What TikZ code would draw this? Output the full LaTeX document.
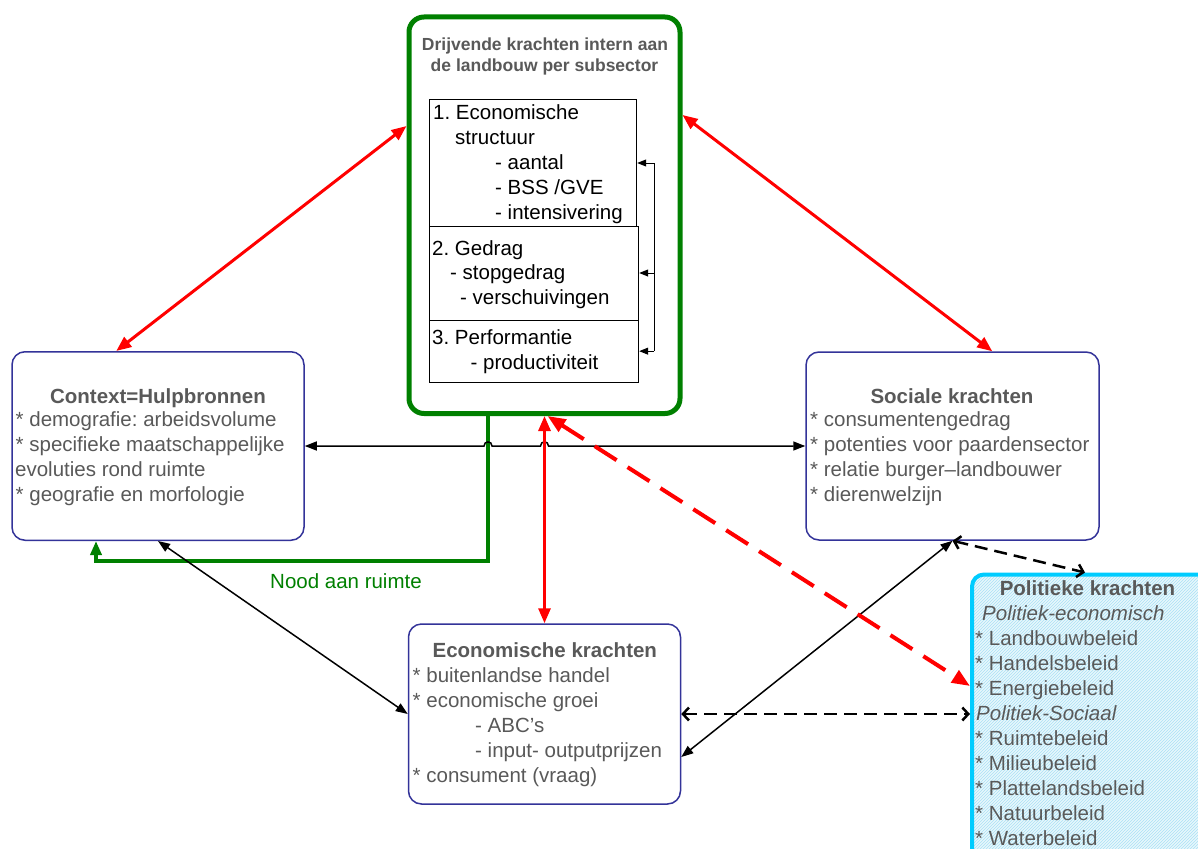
\documentclass[tikz,border=0pt]{standalone}
\usepackage{fontspec}
\setmainfont{Liberation Sans}
\usetikzlibrary{arrows.meta,patterns}
\definecolor{gtxt}{RGB}{89,89,89}
\definecolor{bblue}{RGB}{51,51,153}
\definecolor{dgreen}{RGB}{0,128,0}
\definecolor{polcyan}{RGB}{0,204,255}
\definecolor{polfill}{RGB}{232,247,252}
\definecolor{polhatch}{RGB}{170,224,245}
\frenchspacing
\begin{document}
\begin{tikzpicture}[x=1pt,y=-1pt,
  txt/.style={font=\fontsize{20.5}{25}\selectfont, text=gtxt, inner sep=0pt, anchor=base west},
  hd/.style={txt, font=\fontsize{20.5}{25}\selectfont\bfseries, anchor=base},
  itx/.style={txt, font=\fontsize{20.5}{25}\selectfont\itshape},
  btxt/.style={txt, text=black},
  ttl/.style={font=\fontsize{17.5}{22}\selectfont\bfseries, text=gtxt, inner sep=0pt, anchor=base},
  bbox/.style={draw=bblue, line width=1.5pt, rounded corners=13pt, fill=white, inner sep=0pt},
  gbox/.style={draw=dgreen, line width=5pt, rounded corners=15pt, fill=white, inner sep=0pt},
  ibox/.style={draw=black, line width=1pt, inner sep=0pt},
  polbox/.style={draw=polcyan, line width=4pt, rounded corners=12pt, inner sep=0pt,
     preaction={fill=polfill}, pattern=north east lines, pattern color=polhatch},
  redarr/.style={draw=red, line width=3pt,
     {Triangle[length=15pt,width=12pt]}-{Triangle[length=15pt,width=12pt]}},
  reddash/.style={draw=red, line width=4pt, dash pattern=on 26pt off 13pt,
     {Triangle[length=18pt,width=14pt]}-{Triangle[length=18pt,width=14pt]}},
  blkarr/.style={draw=black, line width=1.5pt,
     {Triangle[length=12pt,width=9pt]}-{Triangle[length=12pt,width=9pt]}},
  blkdash/.style={draw=black, line width=2.5pt, dash pattern=on 13pt off 7pt,
     {Straight Barb[length=6pt,width=13pt]}-{Straight Barb[length=6pt,width=13pt]}},
  grnln/.style={draw=dgreen, line width=3.5pt, -{Triangle[length=14pt,width=11pt]}},
  inarr/.style={draw=black, line width=1pt, -{Triangle[length=9pt,width=7pt]}}
]
\useasboundingbox (0,0) rectangle (1198,848);
\clip (0,0) rectangle (1198,848);
\fill[white] (0,0) rectangle (1198,848);

% boxes
\node[bbox, minimum width=292pt, minimum height=188.5pt] (ctx) at (158,446) {};
\node[bbox, minimum width=293pt, minimum height=188pt] (soc) at (952.5,446) {};
\node[bbox, minimum width=272pt, minimum height=180pt] (econ) at (544.5,714) {};
\node[gbox, minimum width=271pt, minimum height=396.5pt] (grn) at (544.5,215.25) {};
\node[ibox, minimum width=207.4pt, minimum height=126pt] (b1) at (533,163) {};
\node[ibox, minimum width=209.4pt, minimum height=94pt] (b2) at (534,273) {};
\node[ibox, minimum width=209.4pt, minimum height=62.3pt] (b3) at (534,351.15) {};
\node[polbox, minimum width=290pt, minimum height=330pt, anchor=north west] (pol) at (970,572.5) {};

% green box texts
\node[ttl] (t1) at (545,50.7) {Drijvende krachten intern aan};
\node[ttl] (t2) at (544.5,71.7) {de landbouw per subsector};
\node[btxt] (e1) at (433,120) {1. Economische};
\node[btxt] (e2) at (455,144) {structuur};
\node[btxt] (e3) at (495,169) {- aantal};
\node[btxt] (e4) at (495,194) {- BSS /GVE};
\node[btxt] (e5) at (495,219) {- intensivering};
\node[btxt] (g1) at (432,255) {2. Gedrag};
\node[btxt] (g2) at (450,279) {- stopgedrag};
\node[btxt] (g3) at (460,304) {- verschuivingen};
\node[btxt] (p1) at (432,344) {3. Performantie};
\node[btxt] (p2) at (470.5,369) {- productiviteit};

% context
\node[hd] (ch) at (158,403) {Context=Hulpbronnen};
\node[txt] (c1) at (15.5,426) {* demografie: arbeidsvolume};
\node[txt] (c2) at (15.5,451) {* specifieke maatschappelijke};
\node[txt] (c3) at (15,476) {evoluties rond ruimte};
\node[txt] (c4) at (15.5,501) {* geografie en morfologie};

% sociale
\node[hd] (sh) at (952,403) {Sociale krachten};
\node[txt] (s1) at (810,426) {* consumentengedrag};
\node[txt] (s2) at (810,451) {* potenties voor paardensector};
\node[txt] (s3) at (810,476) {* relatie burger–landbouwer};
\node[txt] (s4) at (810,501) {* dierenwelzijn};

% economische
\node[hd] (eh) at (544.8,657.5) {Economische krachten};
\node[txt] (k1) at (412.5,682.5) {* buitenlandse handel};
\node[txt] (k2) at (412.5,707.5) {* economische groei};
\node[txt] (k3) at (475,732.5) {- ABC’s};
\node[txt] (k4) at (475,757.5) {- input- outputprijzen};
\node[txt] (k5) at (412.5,782.5) {* consument (vraag)};

% politieke
\node[hd] (ph) at (1087.5,595) {Politieke krachten};
\node[itx] (q1) at (982,620) {Politiek-economisch};
\node[txt] (q2) at (975,645) {* Landbouwbeleid};
\node[txt] (q3) at (975,670) {* Handelsbeleid};
\node[txt] (q4) at (975,695) {* Energiebeleid};
\node[itx] (q5) at (976,720) {Politiek-Sociaal};
\node[txt] (q6) at (975,745) {* Ruimtebeleid};
\node[txt] (q7) at (975,770) {* Milieubeleid};
\node[txt] (q8) at (975,795) {* Plattelandsbeleid};
\node[txt] (q9) at (975,820) {* Natuurbeleid};
\node[txt] (q10) at (975,845) {* Waterbeleid};

% feedback bracket inside green box
\coordinate (brk) at (654,0);
\draw[line width=1pt] (b1.east -| brk) -- (b3.east -| brk);
\foreach \b in {b1,b2,b3} \draw[inarr] (\b.east -| brk) -- (\b.east);

% green line
\draw[grnln] ([xshift=-56.5pt]grn.south) -- ++(0,145) -| ([xshift=-62pt]ctx.south);
\node[txt, text=dgreen] (nood) at (270,588) {Nood aan ruimte};

% black connectors
\draw[blkarr] (ctx.east) -- (484,446) .. controls (484,440.5) and (492,440.5) .. (492,446)
   -- (540.5,446) .. controls (540.5,440.5) and (548.5,440.5) .. (548.5,446) -- (soc.west);
\draw[blkarr] (ctx.south) -- (econ.west);
\draw[blkarr] (soc.south) -- ([yshift=-43pt]econ.east);
\draw[blkdash] (econ.east) -- (econ.east -| pol.west);
\draw[blkdash] (soc.south) -- ([xshift=115pt]pol.north west);

% red connectors
\draw[redarr] ([yshift=-111.5pt]grn.north west) -- ([xshift=105pt]ctx.north west);
\draw[redarr] ([yshift=-100.5pt]grn.north east) -- ([xshift=187pt]soc.north west);
\draw[redarr] (grn.south) -- (econ.north);
\draw[reddash] ([xshift=3pt]grn.south) -- ([yshift=-113.5pt]pol.north west);
\end{tikzpicture}
\end{document}
